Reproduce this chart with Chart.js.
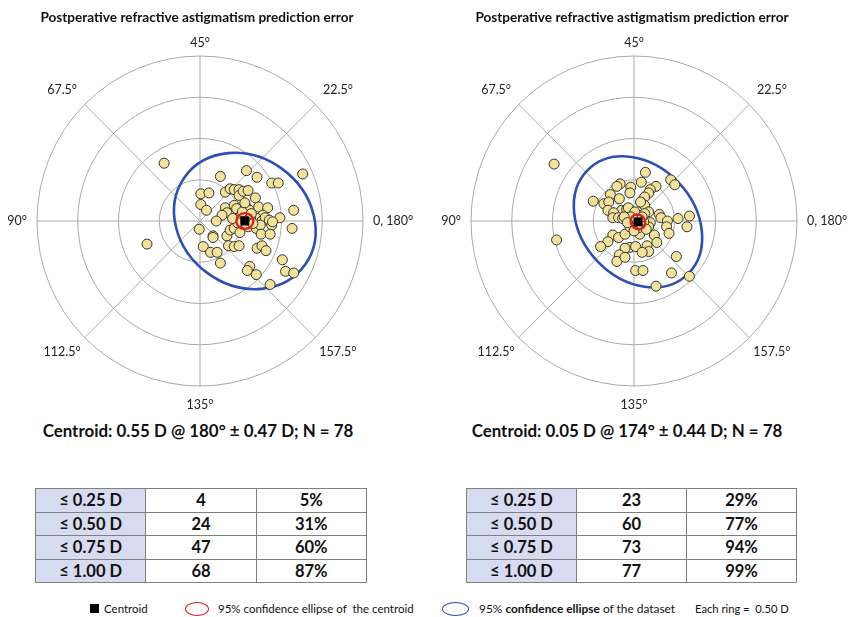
<!DOCTYPE html>
<html><head><meta charset="utf-8">
<script src="https://cdn.jsdelivr.net/npm/chart.js@4.4.0/dist/chart.umd.min.js"></script>
<style>
html,body{margin:0;padding:0;background:#fff;}
body{width:848px;height:617px;overflow:hidden;position:relative;font-family:Lato,'Open Sans',sans-serif;color:#111;}
.abs{position:absolute;white-space:nowrap;}
.title{font-weight:bold;font-size:13.6px;line-height:16px;transform:translateX(-50%);}
.centroid{font-weight:bold;font-size:16.9px;line-height:20px;transform:translateX(-50%);}
table{position:absolute;border-collapse:collapse;table-layout:fixed;}
td{border:1.5px solid #808080;height:22.5px;padding:0;text-align:center;font-weight:bold;font-size:16.5px;line-height:20px;}
td.first{background:#d7dbef;}
.leg{font-size:11.5px;line-height:14px;top:602px;}
canvas{position:absolute;top:0;}
</style>
</head><body>
<canvas id="cL" width="424" height="420" style="left:0"></canvas>
<canvas id="cR" width="424" height="420" style="left:424px"></canvas>
<div class="abs title" style="left:197px;top:9px">Postperative refractive astigmatism prediction error</div>
<div class="abs title" style="left:632px;top:9px">Postperative refractive astigmatism prediction error</div>
<div class="abs centroid" id="centL" style="left:198px;top:421px"></div>
<div class="abs centroid" id="centR" style="left:627px;top:421px"></div>
<table id="tabL" style="left:35px;top:488px;width:332px"></table>
<table id="tabR" style="left:466px;top:488px;width:331px"></table>
<div class="abs" style="left:90px;top:604px;width:9px;height:9px;background:#000"></div>
<div class="abs leg" style="left:104px">Centroid</div>
<div class="abs" style="left:185px;top:602px;width:22px;height:12px;border:1.6px solid #e0201c;border-radius:50%"></div>
<div class="abs leg" style="left:218px">95% confidence ellipse of&nbsp; the centroid</div>
<div class="abs" style="left:442px;top:602px;width:25px;height:12px;border:1.6px solid #2d4fb4;border-radius:50%"></div>
<div class="abs leg" style="left:479px;font-size:11.9px">95% <b>confidence ellipse</b> of the dataset</div>
<div class="abs leg" style="left:695px;font-size:11.2px">Each ring =&nbsp; 0.50 D</div>
<script>
// ---- data ----
const ANGLE_VALUES = [0, 22.5, 45, 67.5, 90, 112.5, 135, 157.5];
const ANGLE_LABELS = ['0, 180°', '22.5°', '45°', '67.5°', '90°', '112.5°', '135°', '157.5°'];
const RING_VALUES = [0.5, 1.0, 1.5, 2.0];

// double-angle coordinates (D)
const LEFT_X = [-0.44,-0.65,0.25,0.57,0.70,1.26,0.88,0.96,0.01,0.11,0.31,0.37,0.42,0.48,0.48,0.53,0.59,0.68,0.01,0.08,
  0.31,0.42,0.33,0.45,0.56,0.61,0.72,0.83,0.77,0.27,0.20,1.15,0.98,0.70,0.76,0.80,0.85,0.88,0.89,-0.01,
  0.16,0.16,0.33,0.37,0.42,0.49,0.59,0.69,0.74,0.75,0.86,1.13,0.04,0.13,0.21,0.35,0.42,0.48,0.70,0.76,
  0.81,0.25,1.01,0.61,0.58,0.69,1.05,1.15,0.86,0.50,0.56,0.62,0.46,0.65,0.52,0.40,0.63,0.55];
const LEFT_Y = [0.70,-0.28,0.54,0.61,0.53,0.57,0.46,0.46,0.33,0.34,0.35,0.39,0.38,0.38,0.31,0.36,0.37,0.28,0.20,0.13,
  0.16,0.19,0.10,0.15,0.18,0.13,0.17,0.16,0.07,0.07,0.00,0.13,0.04,0.03,0.00,0.04,0.01,-0.05,-0.01,-0.10,
  -0.18,-0.20,-0.18,-0.11,-0.09,-0.14,-0.07,-0.09,-0.05,-0.16,-0.16,-0.09,-0.31,-0.38,-0.38,-0.30,-0.31,-0.30,-0.33,-0.30,
  -0.36,-0.51,-0.47,-0.55,-0.60,-0.65,-0.61,-0.63,-0.77,0.06,-0.03,0.03,-0.02,-0.03,0.11,0.03,0.09,0.22];

const RIGHT_X = [-0.98,-0.95,0.14,0.45,0.50,-0.17,-0.21,-0.04,-0.05,0.09,0.27,0.20,0.18,-0.29,-0.18,-0.50,-0.37,-0.31,-0.32,0.13,
  0.09,0.13,0.18,-0.15,-0.09,-0.25,-0.26,-0.19,-0.14,0.31,0.33,0.41,0.40,0.54,0.68,0.65,0.43,0.20,0.18,0.25,
  0.28,0.07,-0.02,-0.26,-0.32,-0.19,-0.11,-0.41,-0.05,0.02,-0.11,0.16,0.18,0.10,-0.18,-0.21,-0.11,0.02,0.11,0.52,
  0.46,0.68,0.27,-0.07,0.01,-0.04,-0.05,0.07,0.12,0.13,0.08,-0.12,0.03,0.06,-0.08,0.10,0.00,0.15];
const RIGHT_Y = [0.69,-0.23,0.59,0.50,0.44,0.45,0.42,0.41,0.34,0.47,0.42,0.38,0.34,0.32,0.27,0.24,0.21,0.23,0.13,0.29,
  0.22,0.19,0.11,0.13,0.14,0.10,0.04,0.04,0.03,0.08,0.04,0.00,-0.07,0.03,0.06,-0.07,-0.15,-0.02,-0.07,-0.17,
  -0.26,-0.04,-0.07,-0.17,-0.25,-0.20,-0.16,-0.31,-0.32,-0.31,-0.33,-0.30,-0.37,-0.38,-0.41,-0.49,-0.44,-0.60,-0.60,-0.43,
  -0.63,-0.67,-0.79,0.16,0.11,0.05,-0.07,-0.16,-0.01,0.09,0.23,0.05,0.02,-0.08,-0.02,0.05,-0.12,-0.10];

// centroid: [magnitude D, axis deg], sd D, N
const LEFT_CENTROID = [0.55, 180];
const RIGHT_CENTROID = [0.05, 174];
const LEFT_SD = 0.47, RIGHT_SD = 0.44, N_EYES = 78;
// ellipses: [semi-major D, semi-minor D, rotation deg]
const LEFT_DATA_ELLIPSE = [0.91, 0.78, -35.5];
const LEFT_CENT_ELLIPSE = [0.105, 0.095, 0];
const RIGHT_DATA_ELLIPSE = [0.88, 0.69, -46];
const RIGHT_CENT_ELLIPSE = [0.095, 0.085, -40];

const TABLE_ROWS = ['≤ 0.25 D', '≤ 0.50 D', '≤ 0.75 D', '≤ 1.00 D'];
const LEFT_COUNTS = [4, 24, 47, 68];
const LEFT_PCT = [5, 31, 60, 87];
const RIGHT_COUNTS = [23, 60, 73, 77];
const RIGHT_PCT = [29, 77, 94, 99];

// ---- helpers ----
function toXY(c){ const p = c[1]*2*Math.PI/180; return {x: c[0]*Math.cos(p), y: c[0]*Math.sin(p)}; }

function makePolarPlugin(center, dataEll, centEll){
  function ellipsePath(ctx, x, y, e){
    const cx = x.getPixelForValue(center.x), cy = y.getPixelForValue(center.y);
    const sx = x.getPixelForValue(1) - x.getPixelForValue(0);
    const sy = y.getPixelForValue(0) - y.getPixelForValue(1);
    ctx.save();
    ctx.translate(cx, cy); ctx.scale(sx, -sy); ctx.rotate(e[2]*Math.PI/180);
    ctx.beginPath(); ctx.ellipse(0, 0, e[0], e[1], 0, 0, Math.PI*2);
    ctx.restore();
  }
  return {
    id: 'polarGrid',
    beforeDatasetsDraw(chart){
      const {ctx, scales:{x, y}} = chart;
      const cx = x.getPixelForValue(0), cy = y.getPixelForValue(0);
      ctx.save();
      ctx.strokeStyle = '#a9a9a9'; ctx.lineWidth = 1;
      RING_VALUES.forEach(v => {
        const rx = x.getPixelForValue(v) - cx, ry = cy - y.getPixelForValue(v);
        ctx.beginPath(); ctx.ellipse(cx, cy, rx, ry, 0, 0, Math.PI*2); ctx.stroke();
      });
      const R = Math.max(...RING_VALUES);
      const Rx = x.getPixelForValue(R) - cx, Ry = cy - y.getPixelForValue(R);
      ANGLE_VALUES.forEach((a, i) => {
        const phi = a*2*Math.PI/180, c = Math.cos(phi), s = Math.sin(phi);
        ctx.beginPath(); ctx.moveTo(cx, cy); ctx.lineTo(cx + Rx*c, cy - Ry*s); ctx.stroke();
        ctx.fillStyle = '#222'; ctx.font = '12.5px Lato, "Open Sans", sans-serif'; ctx.textBaseline = 'middle';
        let lx, ly;
        if (Math.abs(s) < 0.01){ ctx.textAlign = c > 0 ? 'left' : 'right'; lx = cx + c*(Rx+10); ly = cy; }
        else if (Math.abs(c) < 0.01){ ctx.textAlign = 'center'; lx = cx; ly = s > 0 ? cy - Ry - 13 : cy + Ry + 19; }
        else { ctx.textAlign = 'center'; lx = cx + c*(Rx+32); ly = cy - s*(Ry+20); }
        ctx.fillText(ANGLE_LABELS[i], lx, ly);
      });
      ellipsePath(ctx, x, y, dataEll);
      ctx.strokeStyle = '#2d4fb4'; ctx.lineWidth = 2.6; ctx.stroke();
      ctx.restore();
    },
    afterDatasetDraw(chart, args){
      if (args.index !== 1) return;
      const {ctx, scales:{x, y}} = chart;
      ctx.save();
      ellipsePath(ctx, x, y, centEll);
      ctx.strokeStyle = '#e0201c'; ctx.lineWidth = 2.4; ctx.stroke();
      ctx.restore();
    }
  };
}

function makePanel(id, xs, ys, cent, dataEll, centEll, padL, padR){
  const c = toXY(cent);
  return new Chart(document.getElementById(id), {
    type: 'scatter',
    data: { datasets: [
      { label: 'Centroid', data: [c], pointStyle: 'rect', pointRadius: 6.4, backgroundColor: '#000', borderColor: '#000', borderWidth: 0, clip: false },
      { label: 'Eyes', data: xs.map((v, i) => ({x: v, y: ys[i]})), pointRadius: 5, backgroundColor: '#f3e39a', borderColor: '#333', borderWidth: 1, clip: false }
    ]},
    options: {
      responsive: false, animation: false, devicePixelRatio: 1, events: [],
      layout: { padding: { left: padL, right: padR, top: 56, bottom: 34 } },
      scales: {
        x: { type: 'linear', min: -2, max: 2, display: false },
        y: { type: 'linear', min: -2, max: 2, display: false }
      },
      plugins: { legend: { display: false }, tooltip: { enabled: false } }
    },
    plugins: [makePolarPlugin(c, dataEll, centEll)]
  });
}

function fillTable(id, counts, pct){
  const t = document.getElementById(id);
  t.innerHTML = TABLE_ROWS.map((r, i) =>
    `<tr><td class="first">${r}</td><td>${counts[i]}</td><td>${pct[i]}%</td></tr>`).join('');
}
function centText(cent, sd){
  return `Centroid: ${cent[0].toFixed(2)} D @ ${cent[1]}° ± ${sd.toFixed(2)} D; N = ${N_EYES}`;
}

makePanel('cL', LEFT_X, LEFT_Y, LEFT_CENTROID, LEFT_DATA_ELLIPSE, LEFT_CENT_ELLIPSE, 37, 61);
makePanel('cR', RIGHT_X, RIGHT_Y, RIGHT_CENTROID, RIGHT_DATA_ELLIPSE, RIGHT_CENT_ELLIPSE, 47, 51);
fillTable('tabL', LEFT_COUNTS, LEFT_PCT);
fillTable('tabR', RIGHT_COUNTS, RIGHT_PCT);
document.getElementById('centL').textContent = centText(LEFT_CENTROID, LEFT_SD);
document.getElementById('centR').textContent = centText(RIGHT_CENTROID, RIGHT_SD);
</script>
</body></html>
